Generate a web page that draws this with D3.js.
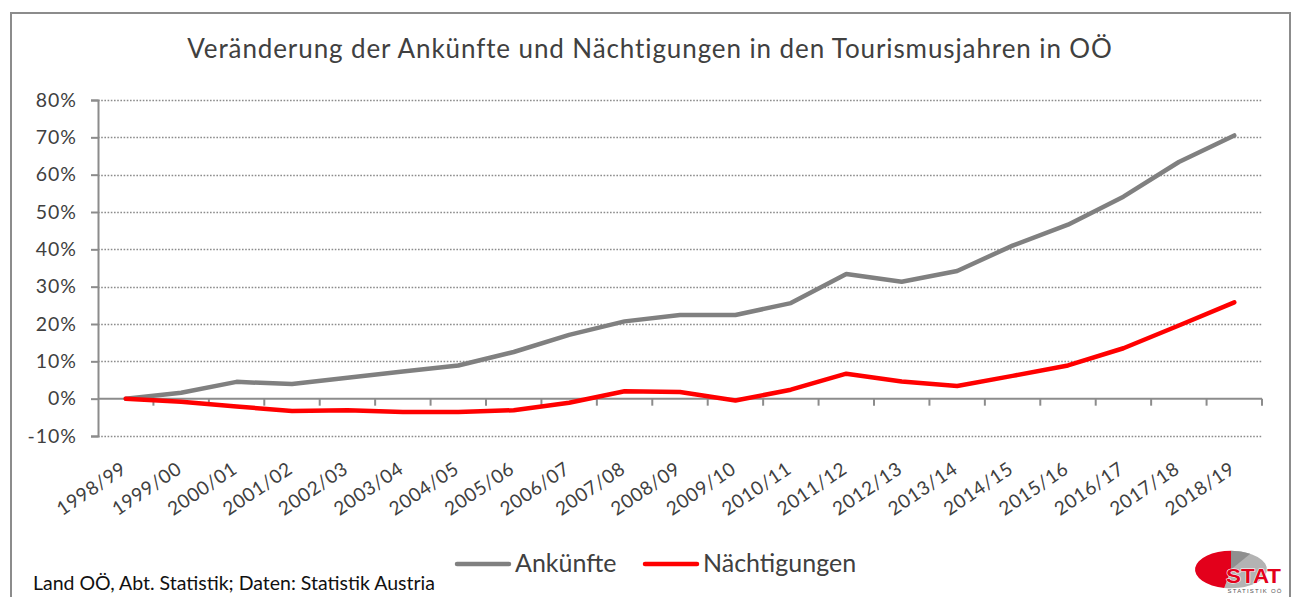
<!DOCTYPE html>
<html>
<head>
<meta charset="utf-8">
<script src="https://cdn.jsdelivr.net/npm/d3@7"></script>
<style>
    body { margin: 0; background: #fff; }
    svg { display: block; font-family: Lato, "Open Sans", sans-serif; }
</style>
</head>
<body>
<svg id="chart" width="1294" height="597"></svg>
<script>
const seasons = ["1998/99", "1999/00", "2000/01", "2001/02", "2002/03", "2003/04", "2004/05",
    "2005/06", "2006/07", "2007/08", "2008/09", "2009/10", "2010/11", "2011/12", "2012/13",
    "2013/14", "2014/15", "2015/16", "2016/17", "2017/18", "2018/19"];

// change vs. 1998/99, in percent
const ankuenfte = [0, 1.6, 4.5, 3.9, 5.6, 7.3, 8.9, 12.5, 17.1, 20.7, 22.4, 22.4, 25.6,
    33.4, 31.3, 34.2, 41.0, 46.6, 54.1, 63.4, 70.5];
const naechtigungen = [0, -0.8, -2.1, -3.3, -3.1, -3.6, -3.6, -3.1, -1.1, 2.0, 1.8, -0.5, 2.4,
    6.7, 4.6, 3.4, 6.1, 8.9, 13.5, 19.6, 25.8];

const yTicks = [-10, 0, 10, 20, 30, 40, 50, 60, 70, 80];

const series = [
    { name: "Ankünfte", values: ankuenfte, color: "#808080" },
    { name: "Nächtigungen", values: naechtigungen, color: "#ff0000" }
];

const svg = d3.select("#chart");

// outer frame
svg.append("path")
    .attr("d", "M11,600 V13 H1290 V600")
    .attr("fill", "none")
    .attr("stroke", "#8c8c8c")
    .attr("stroke-width", 2);

svg.append("text")
    .attr("x", 650)
    .attr("y", 58)
    .attr("text-anchor", "middle")
    .attr("fill", "#404040")
    .style("font-size", "26px")
    .style("letter-spacing", "0.9px")
    .text("Veränderung der Ankünfte und Nächtigungen in den Tourismusjahren in OÖ");

const plotLeft = 98, plotRight = 1262, plotTop = 100, plotBottom = 436;

const x = d3.scaleBand().domain(seasons).range([plotLeft, plotRight]).padding(0);
const y = d3.scaleLinear().domain([-10, 80]).range([plotBottom, plotTop]);

// dotted gridlines
svg.append("g")
    .selectAll("line")
    .data(yTicks.filter(t => t !== 0))
    .enter().append("line")
    .attr("x1", plotLeft)
    .attr("x2", plotRight)
    .attr("y1", d => Math.round(y(d)) + 0.5)
    .attr("y2", d => Math.round(y(d)) + 0.5)
    .attr("stroke", "#8c8c8c")
    .attr("stroke-width", 1.3)
    .attr("stroke-dasharray", "1.6,1.6");

// y axis
const yAxis = svg.append("g")
    .attr("transform", `translate(${plotLeft},0)`)
    .call(d3.axisLeft(y).tickValues(yTicks).tickSize(7).tickPadding(14).tickFormat(d => d + "%"));
yAxis.select(".domain").attr("stroke", "#8c8c8c").attr("stroke-width", 2);
yAxis.selectAll(".tick line").attr("stroke", "#8c8c8c").attr("stroke-width", 2);
yAxis.selectAll(".tick text")
    .attr("fill", "#404040")
    .style("font-size", "19.5px")
    .style("letter-spacing", "1px")
    .style("font-family", "Lato, sans-serif");

// x axis at 0 %, ticks at category boundaries
const boundaries = seasons.map(s => x(s)).concat([plotRight]);
const xAxisG = svg.append("g");
xAxisG.append("line")
    .attr("x1", plotLeft).attr("x2", plotRight)
    .attr("y1", y(0)).attr("y2", y(0))
    .attr("stroke", "#8c8c8c").attr("stroke-width", 2);
xAxisG.selectAll(".xtick")
    .data(boundaries.slice(1))
    .enter().append("line")
    .attr("class", "xtick")
    .attr("x1", d => d).attr("x2", d => d)
    .attr("y1", y(0)).attr("y2", y(0) + 7)
    .attr("stroke", "#8c8c8c").attr("stroke-width", 2);

// rotated category labels
svg.append("g")
    .selectAll("text")
    .data(seasons)
    .enter().append("text")
    .attr("transform", d => `translate(${x(d) + x.bandwidth() / 2 + 2},${plotBottom + 36}) rotate(-34)`)
    .attr("text-anchor", "end")
    .attr("fill", "#404040")
    .style("font-size", "19px")
    .style("letter-spacing", "0.6px")
    .text(d => d);

// lines
const line = d3.line()
    .x((d, i) => x(seasons[i]) + x.bandwidth() / 2)
    .y(d => y(d));

svg.append("g")
    .selectAll("path")
    .data(series)
    .enter().append("path")
    .attr("d", d => line(d.values))
    .attr("fill", "none")
    .attr("stroke", d => d.color)
    .attr("stroke-width", 4.5)
    .attr("stroke-linejoin", "round")
    .attr("stroke-linecap", "round");

// legend
const legendPos = [457, 645];
const legend = svg.append("g")
    .selectAll("g")
    .data(series)
    .enter().append("g")
    .attr("transform", (d, i) => `translate(${legendPos[i]},564)`);
legend.append("line")
    .attr("x1", 0).attr("x2", 52)
    .attr("stroke", d => d.color)
    .attr("stroke-width", 4.5)
    .attr("stroke-linecap", "round");
legend.append("text")
    .attr("x", 58)
    .attr("y", 8)
    .attr("fill", "#404040")
    .style("font-size", "25px")
    .text(d => d.name);

// source
svg.append("text")
    .attr("x", 33)
    .attr("y", 590)
    .attr("fill", "#111")
    .style("font-size", "19.5px")
    .text("Land OÖ, Abt. Statistik; Daten: Statistik Austria");

// STAT logo
const logo = svg.append("g").attr("transform", "translate(1231,569.5)");
const pie = logo.append("g").attr("transform", "scale(1,0.52)");
const arc = d3.arc().innerRadius(0).outerRadius(36);
const slices = [
    { startAngle: 0, endAngle: Math.PI * 1.06, color: "#b3b3b3" },
    { startAngle: 0, endAngle: Math.PI * 0.18, color: "#8f8f8f" },
    { startAngle: Math.PI * 1.06, endAngle: Math.PI * 2, color: "#e3001b" }
];
pie.selectAll("path")
    .data(slices)
    .enter().append("path")
    .attr("d", arc)
    .attr("fill", d => d.color);
logo.append("text")
    .attr("x", 22.5)
    .attr("y", 13.5)
    .attr("text-anchor", "middle")
    .attr("fill", "#e3001b")
    .attr("stroke", "#fff")
    .attr("stroke-width", 1)
    .attr("paint-order", "stroke")
    .attr("textLength", 55)
    .attr("lengthAdjust", "spacingAndGlyphs")
    .style("font-family", "'Liberation Sans', Arial, sans-serif")
    .style("font-weight", "bold")
    .style("font-size", "20px")
    .text("STAT");
logo.append("text")
    .attr("x", 23.5)
    .attr("y", 23.5)
    .attr("text-anchor", "middle")
    .attr("fill", "#555")
    .attr("textLength", 54)
    .style("font-family", "'Liberation Sans', Arial, sans-serif")
    .style("font-size", "6px")
    .text("STATISTIK OÖ");
</script>
</body>
</html>
